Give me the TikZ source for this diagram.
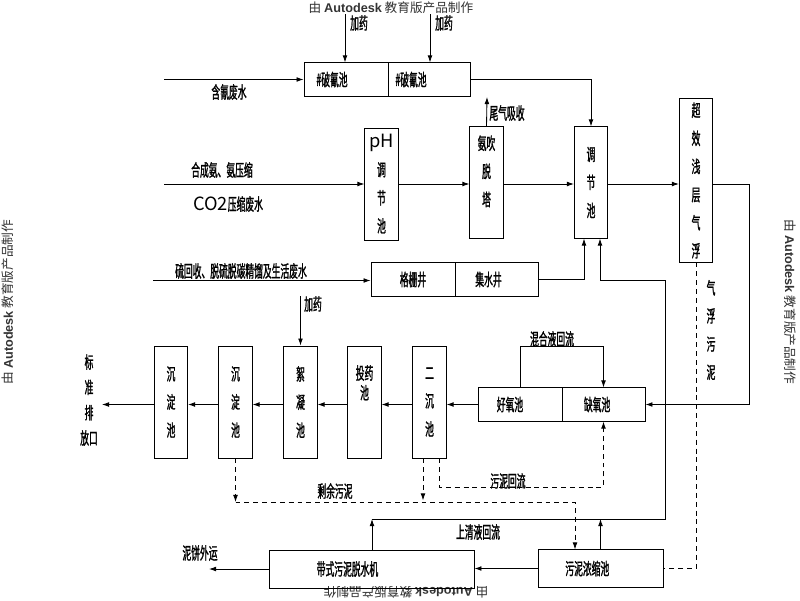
\documentclass[tikz,border=0pt]{standalone}
\usepackage{fontspec}
\setmainfont[FakeStretch=0.52,FakeBold=1.2]{Noto Sans CJK SC}
\newfontfamily\plainfont{Noto Sans CJK SC}
\newfontfamily\adskfont{Liberation Sans}
\usetikzlibrary{arrows.meta,calc,positioning}

\tikzset{
  box/.style={draw,inner sep=0pt},
  hbox/.style={box,minimum height=0.83cm,font=\fontsize{12}{13}\selectfont},
  vtext/.style={align=center,inner sep=0pt,font=\fontsize{12}{20}\selectfont},
  vbox/.style={box,vtext,minimum width=0.83cm},
  lbl/.style={inner sep=1pt,font=\fontsize{12}{13}\selectfont},
  flow/.style={->},
  sludge/.style={dash pattern=on 3.5pt off 2.8pt},
  stamp/.style={inner sep=0pt,text=black!80,font=\plainfont\fontsize{9}{10}\selectfont}
}
\newcommand{\adskmark}{由 {\adskfont\bfseries Autodesk} 教育版产品制作}

\begin{document}
\begin{tikzpicture}[x=0.025cm,y=-0.025cm,line width=0.6pt,>={Latex[length=5pt,width=3.4pt]}]
\fill[white] (0,0) rectangle (800,600);
\useasboundingbox (0,0) rectangle (800,600);

% stamps
\node[stamp] (stT) at (391,8) {\adskmark};
\node[stamp,rotate=90] (stL) at (8,302) {\adskmark};
\node[stamp,rotate=-90] (stR) at (790,302) {\adskmark};
\node[stamp,rotate=180] (stB) at (406,592) {\adskmark};

% boxes
\node[hbox,minimum width=2.1cm,label={[lbl,xshift=-0.35cm]center:\#破氰池}] (po1) at (346,79.5) {};
\node[hbox,minimum width=2.05cm,label={[lbl,xshift=-0.45cm]center:\#破氰池}] (po2) at (429,79.5) {};
\node[vbox,minimum height=2.8cm] (ph) at (381.5,184) {{\plainfont\fontsize{13}{13}\selectfont pH}\\调\\节\\池};
\node[vbox,minimum height=2.78cm,label={[vtext,yshift=0.28cm]center:氨吹\\脱\\塔}] (chui) at (486.5,182.5) {};
\node[vbox,minimum height=2.78cm] (tj) at (591,182.5) {调\\节\\池};
\node[vbox,minimum height=4.08cm] (qf) at (696,180.5) {超\\效\\浅\\层\\气\\浮};
\node[hbox,minimum width=2.1cm] (gs) at (413,279.5) {格栅井};
\node[hbox,minimum width=2.075cm,label={[lbl,xshift=-0.2cm]center:集水井}] (js) at (496.5,279.5) {};

\node[vbox,minimum height=2.8cm] (cd1) at (171,402) {沉\\淀\\池};
\node[vbox,minimum height=2.8cm] (cd2) at (235.5,402) {沉\\淀\\池};
\node[vbox,minimum height=2.8cm] (xn) at (300.5,402) {絮\\凝\\池};
\node[vbox,minimum height=2.8cm,label={[vtext,font=\fontsize{12}{14}\selectfont,yshift=0.48cm]center:投药\\池}] (ty) at (364.5,402) {};
\node[vbox,minimum height=2.8cm] (ec) at (429.5,402) {二\\沉\\池};
\node[hbox,minimum width=2.1cm,label={[lbl,xshift=-0.25cm]center:好氧池}] (hy) at (520,404.5) {};
\node[hbox,minimum width=2.075cm,label={[lbl,xshift=-0.16cm]center:缺氧池}] (qy) at (603.5,404.5) {};

\node[hbox,minimum width=5.125cm,minimum height=0.95cm,label={[lbl,xshift=-0.6cm]center:带式污泥脱水机}] (dj) at (371.5,569) {};
\node[hbox,minimum width=3.125cm,minimum height=0.93cm,label={[lbl,xshift=-0.33cm]center:污泥浓缩池}] (nj) at (600.5,568.5) {};

% top line
\coordinate (jy1) at (345,14);
\coordinate (jy2) at (430,14);
\draw[flow] (jy1) -- (jy1 |- po1.north);
\draw[flow] (jy2) -- (jy2 |- po2.north);
\coordinate (in1) at (164,79.5);
\draw[flow] (in1) -- (po1.west);
\draw[flow] (po2.east) -| (tj.north);

% middle line
\coordinate (in2) at (164,184);
\draw[flow] (in2) -- (ph.west);
\draw[flow] (ph.east) -- (ph.east -| chui.west);
\draw[flow] (ph.east -| chui.east) -- (ph.east -| tj.west);
\draw[flow] (ph.east -| tj.east) -- (ph.east -| qf.west);
\coordinate (wq) at (487,97);
\draw[flow] (chui.north) -- (wq);
\coordinate (qfr) at (749,184);
\draw[flow] (ph.east -| qf.east) -- (qfr) |- (qy.east);

% wells
\coordinate (in3) at (153,280.5);
\draw[flow] (in3) -- (in3 -| gs.west);
\draw[flow] (js.east) -| ($(tj.south)+(-7,0)$);

% supernatant return
\coordinate (sq1) at (372,519);
\coordinate (sq2) at (665,519);
\coordinate (sq3) at (665,280.5);
\draw[flow] (sq1) -- (sq2) -- (sq3) -| ($(tj.south)+(9,0)$);
\draw[flow] (sq1 |- dj.north) -- (sq1);
\draw[flow] (nj.north) -- (nj.north |- sq1);

% dosing
\coordinate (jy3) at (300.5,296);
\draw[flow] (jy3) -- (xn.north);

% bottom row
\draw[flow] (hy.west) -- (hy.west -| ec.east);
\foreach \a/\b in {ec/ty,ty/xn,xn/cd2,cd2/cd1}
  \draw[flow] (\a.west |- hy.west) -- (\b.east |- hy.west);
\coordinate (out) at (102,404.5);
\draw[flow] (cd1.west |- hy.west) -- (out);
\draw[flow] (hy.north) -- ++(0,-41) -| (qy.north);

% sludge
\draw[sludge] (qf.south) |- (nj.east);
\coordinate (hl) at (603.5,487);
\draw[sludge,flow] ($(ec.south)+(9.5,0)$) |- (hl) -- (qy.south);
\coordinate (sy) at (575,502);
\draw[sludge,flow] (cd2.south) -- (cd2.south |- sy);
\draw[sludge,flow] ($(ec.south)+(-6.5,0)$) -- ++(0,42);
\draw[sludge,flow] (cd2.south |- sy) -- (sy) -- (sy |- nj.north);
\draw[flow] (nj.west) -- (nj.west -| dj.east);
\coordinate (out2) at (209,569);
\draw[flow] (dj.west) -- (out2);

% labels
\node[lbl] (in1t) at (229,92) {含氰废水};
\node[lbl] (jy1t) at (359,23) {加药};
\node[lbl] (jy2t) at (444,23) {加药};
\node[lbl] (in2t) at (222,170) {合成氨、氨压缩};
\node[lbl] (in2u) at (228,204) {{\plainfont\fontsize{13}{13}\selectfont CO2}压缩废水};
\node[lbl] (wqt) at (507,113) {尾气吸收};
\node[lbl] (in3t) at (241,271) {硫回收、脱硫脱碳精馏及生活废水};
\node[lbl] (jy3t) at (313,304) {加药};
\node[lbl] (hlt) at (552,339) {混合液回流};
\node[vtext] (qfwn) at (711,330) {气\\浮\\污\\泥};
\node[vtext,font=\fontsize{12}{18}\selectfont] (outt) at (89,400) {标\\准\\排\\放口};
\node[lbl] (wnhl) at (508,481) {污泥回流};
\node[lbl] (sywn) at (335,491) {剩余污泥};
\node[lbl] (sqt) at (478,532) {上清液回流};
\node[lbl] (nbt) at (200,553) {泥饼外运};
\end{tikzpicture}
\end{document}
